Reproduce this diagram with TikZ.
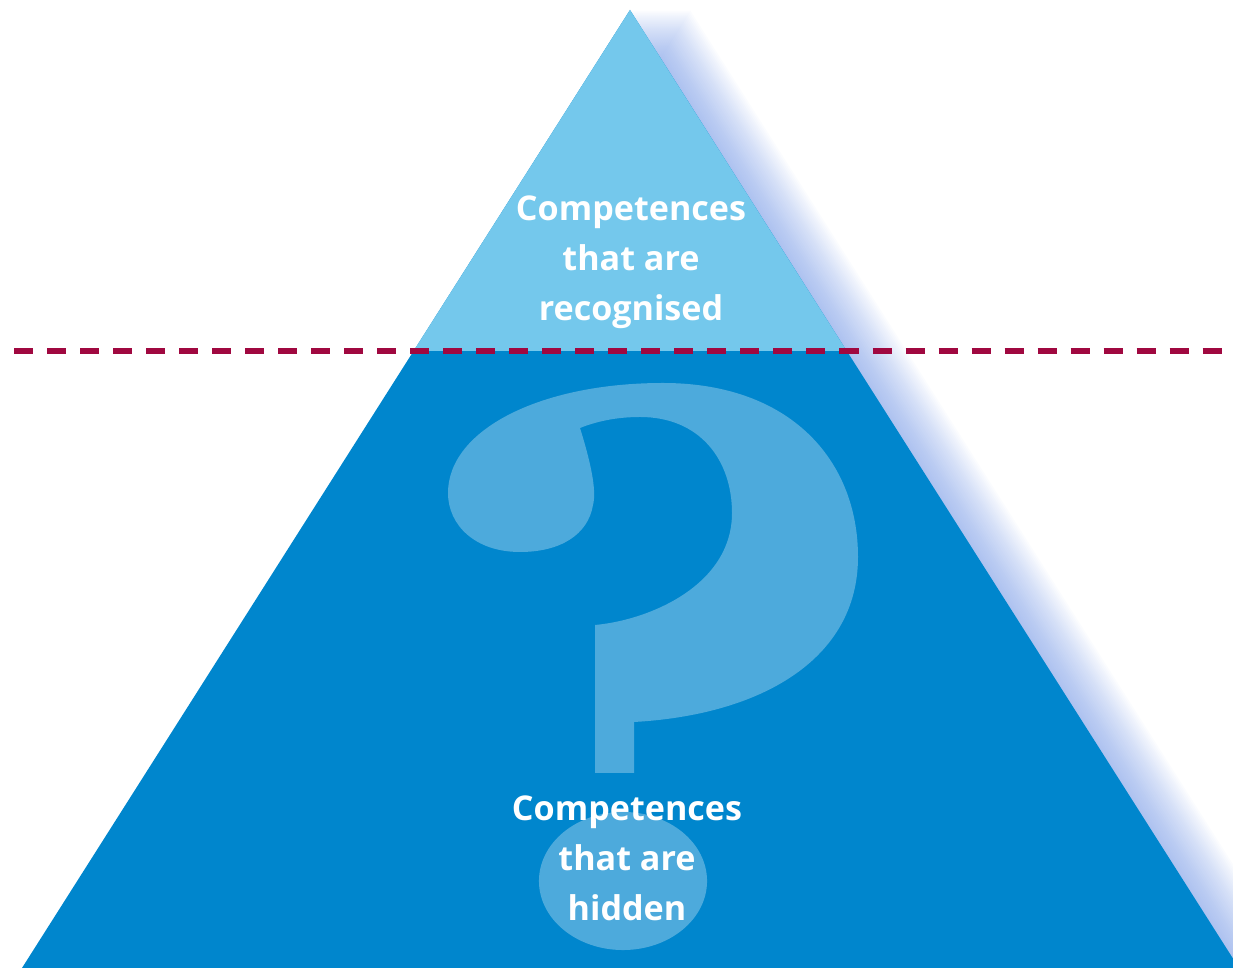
\documentclass[tikz,border=0pt]{standalone}
\usepackage{fontspec}
\setsansfont{Open Sans}
\usetikzlibrary{positioning}
\definecolor{tipblue}{RGB}{116,200,236}
\definecolor{deepblue}{RGB}{0,134,205}
\definecolor{glowblue}{RGB}{95,135,225}
\definecolor{waterline}{RGB}{160,8,64}

\begin{document}
\begin{tikzpicture}[x=0.01cm,y=-0.01cm,
    whitetext/.style={text=white,font=\sffamily\bfseries\fontsize{9.7}{14.2}\selectfont,align=center,inner sep=0pt},
    glow/.style={fill=glowblue,opacity=0.022},
    waterdash/.style={draw=waterline,line width=0.06cm,dash pattern=on 0.19cm off 0.14cm}]
  \useasboundingbox (0,0) rectangle (1233,968);
  \clip (0,0) rectangle (1233,968);
  \coordinate (apex) at (630,10);
  \coordinate (bl) at (22,968);
  \coordinate (br) at (1239,968);

  % soft glow on the right flank
  \foreach \s in {2,4,...,60}
    \path[glow] ([xshift=\s*0.01cm]apex) -- ([xshift=\s*0.01cm]br) -- ([xshift=\s*0.01cm]bl) -- cycle;

  % the pyramid
  \fill[deepblue] (apex) -- (br) -- (bl) -- cycle;
  \begin{scope}
    \clip (0,0) rectangle (1233,351);
    \fill[tipblue] (apex) -- (br) -- (bl) -- cycle;
  \end{scope}

  % question mark
  \fill[white,opacity=0.3] (595,773) -- (595,625)
    .. controls (650,620) and (732,585) .. (732,513)
    .. controls (732,460) and (700,417) .. (640,417)
    .. controls (615,417) and (595,422) .. (580,428)
    .. controls (590,460) and (597,490) .. (593,505)
    .. controls (588,535) and (560,552) .. (520,552)
    .. controls (475,552) and (448,525) .. (448,493)
    .. controls (448,430) and (540,383) .. (663,383)
    .. controls (790,383) and (858,460) .. (858,557)
    .. controls (858,660) and (760,715) .. (634,722)
    -- (634,773) -- cycle;
  \fill[white,opacity=0.3] (623,881) ellipse [x radius=0.84cm, y radius=0.69cm];

  % waterline
  \coordinate (wl) at (14,351);
  \coordinate (wr) at (1240,351);
  \draw[waterdash] (wl) -- (wr);

  \node[whitetext] (seen) at (631,262) {Competences\\that are\\recognised};
  \node[whitetext] (hidden) at (627,858) {Competences\\that are\\hidden};
\end{tikzpicture}
\end{document}
